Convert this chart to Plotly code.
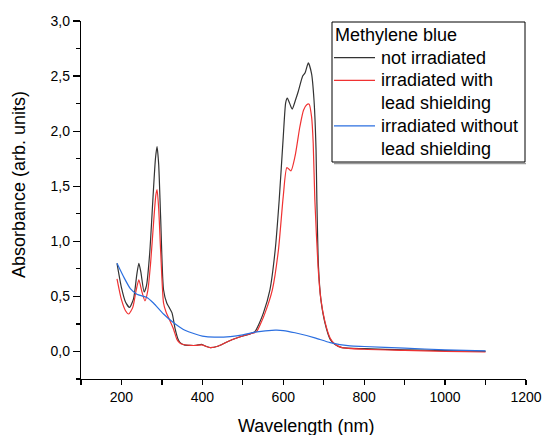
import plotly.graph_objects as go

# ---- data ----
wl_black = [189, 200, 210, 220, 230, 238, 243, 248, 256, 262, 270, 278, 284, 288, 292, 297, 304, 312, 318, 325, 333, 340, 345, 355, 370, 385, 398, 410, 420, 440, 469, 500, 518, 530, 540, 551, 567, 580, 590, 600, 606, 610, 616, 622, 630, 637, 648, 654, 662, 670, 676, 681, 683, 687, 693, 703, 716, 728, 745, 800, 900, 1000, 1100]
abs_black = [0.80, 0.58, 0.45, 0.40, 0.48, 0.70, 0.80, 0.72, 0.54, 0.60, 0.90, 1.40, 1.75, 1.86, 1.70, 1.20, 0.56, 0.44, 0.40, 0.35, 0.20, 0.11, 0.08, 0.06, 0.055, 0.055, 0.065, 0.045, 0.035, 0.05, 0.10, 0.14, 0.16, 0.18, 0.25, 0.35, 0.56, 0.92, 1.38, 1.95, 2.26, 2.30, 2.25, 2.20, 2.28, 2.36, 2.50, 2.53, 2.62, 2.52, 2.28, 1.83, 1.38, 0.77, 0.47, 0.26, 0.11, 0.063, 0.035, 0.025, 0.015, 0.008, 0.0]

wl_red = [189, 200, 210, 218, 228, 236, 243, 250, 258, 265, 272, 280, 285, 288, 292, 297, 304, 310, 316, 329, 337, 345, 353, 370, 385, 398, 410, 420, 440, 469, 500, 518, 534, 545, 555, 573, 588, 600, 609, 619, 629, 641, 650, 658, 664, 670, 674, 678, 686, 693, 703, 716, 728, 745, 800, 900, 1000, 1100]
abs_red = [0.66, 0.47, 0.37, 0.34, 0.40, 0.55, 0.65, 0.55, 0.46, 0.55, 0.80, 1.20, 1.42, 1.47, 1.30, 0.90, 0.44, 0.36, 0.31, 0.20, 0.11, 0.075, 0.063, 0.055, 0.055, 0.06, 0.045, 0.035, 0.05, 0.10, 0.14, 0.16, 0.18, 0.26, 0.35, 0.56, 0.92, 1.41, 1.67, 1.64, 1.77, 2.04, 2.19, 2.24, 2.245, 2.13, 1.89, 1.38, 0.77, 0.47, 0.27, 0.12, 0.065, 0.035, 0.02, 0.01, 0.0, -0.005]

wl_blue = [189, 205, 222, 238, 263, 279, 304, 329, 353, 386, 400, 430, 469, 500, 530, 580, 600, 629, 678, 716, 765, 800, 900, 1000, 1100]
abs_blue = [0.80, 0.68, 0.57, 0.52, 0.49, 0.44, 0.34, 0.26, 0.20, 0.154, 0.14, 0.13, 0.135, 0.15, 0.175, 0.193, 0.19, 0.17, 0.124, 0.08, 0.05, 0.045, 0.03, 0.015, 0.005]

series_names = ["not irradiated", "irradiated with<br>lead shielding", "irradiated without<br>lead shielding"]
series_colors = ["#333333", "#f03232", "#2b6fe0"]
legend_title = "Methylene blue"

ytick_vals = [0.0, 0.5, 1.0, 1.5, 2.0, 2.5, 3.0]
ytick_text = ["0,0", "0,5", "1,0", "1,5", "2,0", "2,5", "3,0"]
xtick_vals = [200, 400, 600, 800, 1000, 1200]
xtick_text = ["200", "400", "600", "800", "1000", "1200"]
x_title = "Wavelength (nm)"
y_title = "Absorbance (arb. units)"

FONT = "Liberation Sans, Arial, sans-serif"
W, H = 544, 435
ML, MR, MT, MB = 81, 18, 21, 56
PW, PH = W - ML - MR, H - MT - MB


def px2x(px):
    return (px - ML) / PW


def py2y(py):
    return (H - MB - py) / PH


fig = go.Figure()
for wl, ab, name, col in zip([wl_black, wl_red, wl_blue], [abs_black, abs_red, abs_blue],
                             series_names, series_colors):
    fig.add_trace(go.Scatter(x=wl, y=ab, mode="lines", name=name.replace("<br>", " "),
                             showlegend=False,
                             line=dict(color=col, width=1.2, shape="spline", smoothing=0.6)))

axis_common = dict(showline=True, linecolor="black", linewidth=1.2, ticks="outside",
                   tickcolor="black", showgrid=False, zeroline=False, mirror=False,
                   automargin=False,
                   tickfont=dict(family=FONT, size=14, color="black"))

shapes = []
annotations = []

# ---- legend box drawn in page space ----
lx0, lx1, ly0, ly1 = 332, 525, 22, 162
shapes.append(dict(type="line", xref="paper", yref="paper",
                   x0=px2x(lx0 + 2), x1=px2x(lx1 + 1), y0=py2y(ly1 + 1.5), y1=py2y(ly1 + 1.5),
                   line=dict(color="#9a9a9a", width=1.5)))
shapes.append(dict(type="rect", xref="paper", yref="paper",
                   x0=px2x(lx0), x1=px2x(lx1), y0=py2y(ly1), y1=py2y(ly0),
                   line=dict(color="black", width=1), fillcolor="white", layer="above"))
row_h = 22.7
row0 = 35
annotations.append(dict(xref="paper", yref="paper", x=px2x(333), y=py2y(row0),
                        text=legend_title, showarrow=False, xanchor="left", yanchor="middle",
                        font=dict(family=FONT, size=18, color="black")))
row = 1
for name, col in zip(series_names, series_colors):
    yc = row0 + row * row_h
    shapes.append(dict(type="line", xref="paper", yref="paper",
                       x0=px2x(334), x1=px2x(375), y0=py2y(yc), y1=py2y(yc),
                       line=dict(color=col, width=1.2), layer="above"))
    for line_txt in name.split("<br>"):
        yc = row0 + row * row_h
        annotations.append(dict(xref="paper", yref="paper", x=px2x(379), y=py2y(yc),
                                text=line_txt, showarrow=False, xanchor="left", yanchor="middle",
                                font=dict(family=FONT, size=18, color="black")))
        row += 1

# ---- axis titles ----
annotations.append(dict(xref="paper", yref="paper", x=px2x(305.5), y=py2y(426),
                        text=x_title, showarrow=False, xanchor="center", yanchor="middle",
                        font=dict(family=FONT, size=18, color="black")))
annotations.append(dict(xref="paper", yref="paper", x=px2x(19), y=py2y(185),
                        text=y_title, showarrow=False, xanchor="center", yanchor="middle",
                        textangle=-90, font=dict(family=FONT, size=18, color="black")))

fig.update_layout(
    width=W, height=H,
    margin=dict(l=ML, r=MR, t=MT, b=MB, autoexpand=False),
    paper_bgcolor="white", plot_bgcolor="white",
    font=dict(family=FONT, color="black"),
    showlegend=False,
    hovermode=False,
    shapes=shapes,
    annotations=annotations,
    xaxis=dict(range=[100, 1200], tickmode="array", tickvals=xtick_vals, ticktext=xtick_text,
               ticklen=5, tickwidth=1.2,
               minor=dict(tickmode="linear", tick0=100, dtick=100, ticklen=5, tickcolor="black", ticks="outside"),
               **axis_common),
    yaxis=dict(range=[-0.25, 3.0], tickmode="array", tickvals=ytick_vals, ticktext=ytick_text,
               ticklen=7, tickwidth=1.2,
               minor=dict(tickmode="linear", tick0=0, dtick=0.25, ticklen=4, tickcolor="black", ticks="outside"),
               **axis_common),
)

fig.write_html("out.html", config={"displayModeBar": False, "staticPlot": True},
               post_script="document.body.style.margin='0';document.body.style.overflow='hidden';")
